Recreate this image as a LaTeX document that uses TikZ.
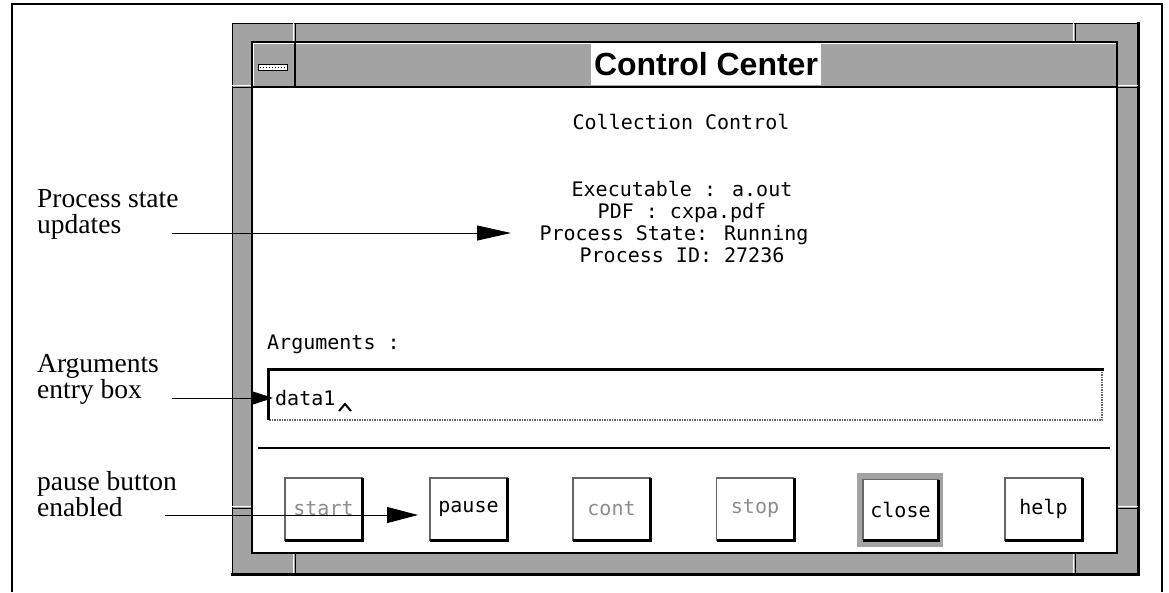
\documentclass[tikz,border=0pt]{standalone}
\usepackage{fontspec}
\setmainfont{Liberation Serif}
\newfontfamily\xmono{DejaVu Sans Mono}
\newfontfamily\xtitle{Liberation Sans}
\usetikzlibrary{arrows.meta}

\tikzset{
  framefill/.style={fill=black!36},
  callout/.style={font=\fontsize{27.5}{25.5}\selectfont, align=left, anchor=base west, inner sep=0pt},
  mono/.style={font=\xmono\fontsize{20}{20}\selectfont, inner sep=0pt, anchor=base},
  pointer/.style={line width=1pt},
  btn/.style={draw=black!60, line width=1.2pt, fill=white, minimum width=77pt,
    minimum height=62pt, inner sep=0pt, font=\xmono\fontsize{20}{20}\selectfont},
  greyed/.style={text=black!45},
  tick/.style={line width=1pt},
}

\begin{document}
\begin{tikzpicture}[x=1pt,y=-1pt]
\useasboundingbox (0,0) rectangle (1169,592);

% page frame (open at the bottom)
\draw[line width=1.6pt] (12,592) -- (12,4) -- (1162,4) -- (1162,592);

% ---- window decoration ----
\fill[framefill] (232,23) rectangle (1138,573);
\draw[line width=1pt] (232,573) -- (232,23) -- (1138,23);
\draw[line width=3pt] (1138,22) -- (1138,574) -- (231,574);

% resize-corner ticks in the frame
\foreach \tx in {295,1075} {
  \draw[white, tick] (\tx-2,23) -- (\tx-2,42);
  \draw[tick] (\tx,23) -- (\tx,42);
  \draw[white, tick] (\tx-2,553) -- (\tx-2,573);
  \draw[tick] (\tx,553) -- (\tx,573);
}
\foreach \ty in {87,508} {
  \draw[white, tick] (232,\ty-2) -- (252,\ty-2);
  \draw[tick] (232,\ty) -- (252,\ty);
  \draw[white, tick] (1117,\ty-2) -- (1138,\ty-2);
  \draw[tick] (1117,\ty) -- (1138,\ty);
}

% title bar
\draw[line width=1.2pt] (252,42) rectangle (1117,87);
\draw[white, line width=1pt] (253.5,86) -- (253.5,43.5) -- (1116,43.5);
\draw[line width=1.2pt] (295,42) -- (295,87);
% window-menu button glyph
\draw[line width=1pt, fill=white] (258,64) rectangle (287,70);
\draw[line width=1pt, dotted] (260,67) -- (285,67);
\node[fill=white, inner xsep=3pt, minimum height=41pt,
      font=\xtitle\bfseries\fontsize{32}{32}\selectfont] (title) at (706,64.5) {Control Center};

% client area
\fill[white] (252,87) rectangle (1117,553);
\draw[line width=2.2pt] (252,87) rectangle (1117,553);

% ---- status text ----
\node[mono] (coll) at (681,129) {Collection Control};
\node[mono] (exe)  at (682,196) {Executable : a.out};
\node[mono] (pdf)  at (682,218) {PDF : cxpa.pdf};
\node[mono] (pst)  at (674,240) {Process State: Running};
\node[mono] (pid)  at (682,262) {Process ID: 27236};

% ---- arguments entry ----
\node[mono, anchor=base west] (arglbl) at (267,349) {Arguments :};
\draw[black!60, line width=1.5pt, densely dotted] (1102,369) -- (1102,420) -- (268,420);
\draw[line width=3pt] (268,420) -- (268,369) -- (1103.5,369);
\node[mono, anchor=base west] (data) at (275,405) {data1};
% insertion caret
\draw[line width=2pt] (339,411) -- (345,404) -- (351,411);

% separator
\draw[line width=2.8pt] (258,448) -- (1110,448);

% ---- buttons ----
\fill[framefill] (857,473) rectangle (943,547);
\node[btn, greyed] (start) at (323.5,509) {start};
\node[btn] (pause) at (468.5,509) {pause};
\node[btn, greyed] (cont) at (611.5,509) {cont};
\node[btn, greyed] (stop) at (755,509) {stop};
\node[btn, minimum width=75pt, minimum height=60pt] (close) at (900.5,509.5) {close};
\node[btn] (help) at (1043.5,509) {help};
\foreach \b in {start,pause,cont,stop,close,help}
  \draw[line width=3pt] ([yshift=-1pt]\b.north east) -- (\b.south east) -- ([xshift=1pt]\b.south west);

% ---- callouts (base = baseline of the last line) ----
\node[callout] (ps) at (37,233) {Process state\\updates};
\node[callout] (ar) at (37,398) {Arguments\\entry box};
\node[callout] (pb) at (37,516) {pause button\\enabled};

\coordinate (psfrom) at (172,233);
\coordinate (psto) at (511,233);
\coordinate (arfrom) at (172,398);
\coordinate (arto) at (273,398);
\coordinate (pbfrom) at (165,515);
\coordinate (pbto) at (418,515);

\draw[pointer, -{Triangle[length=34pt, width=15pt]}] (psfrom) -- (psto);
\draw[pointer, -{Triangle[length=22pt, width=14pt]}] (arfrom) -- (arto);
\draw[pointer, -{Triangle[length=31pt, width=16pt]}] (pbfrom) -- (pbto);
\end{tikzpicture}
\end{document}
